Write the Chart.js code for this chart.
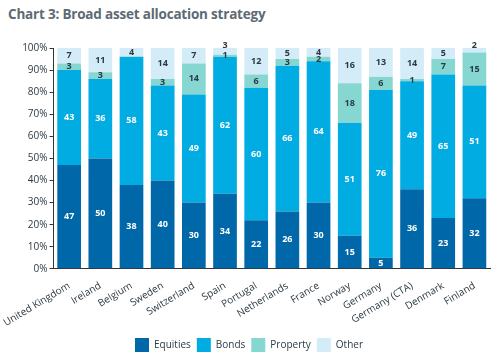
<!DOCTYPE html>
<html>
<head>
<meta charset="utf-8">
<script src="https://cdn.jsdelivr.net/npm/chart.js@4"></script>
<style>
  body { margin: 0; background: #fff; }
  #wrap { width: 494px; height: 353px; position: relative; }
  #title { position: absolute; left: 8px; top: 5px; font: bold 13.5px "Open Sans", sans-serif; color: #5d6a73; letter-spacing: -0.2px; }
  canvas { position: absolute; left: 0; top: 0; }
</style>
</head>
<body>
<div id="wrap">
  <div id="title">Chart 3: Broad asset allocation strategy</div>
  <canvas id="myChart" width="494" height="353"></canvas>
</div>
<script>
const countries = ['United Kingdom', 'Ireland', 'Belgium', 'Sweden', 'Switzerland', 'Spain', 'Portugal',
  'Netherlands', 'France', 'Norway', 'Germany', 'Germany (CTA)', 'Denmark', 'Finland'];
const equities = [47, 50, 38, 40, 30, 34, 22, 26, 30, 15, 5, 36, 23, 32];
const bonds    = [43, 36, 58, 43, 49, 62, 60, 66, 64, 51, 76, 49, 65, 51];
const property = [3, 3, 0, 3, 14, 1, 6, 3, 2, 18, 6, 1, 7, 15];
const other    = [7, 11, 4, 14, 7, 3, 12, 5, 4, 16, 13, 14, 5, 2];
const yTicks = [0, 10, 20, 30, 40, 50, 60, 70, 80, 90, 100];

const fontFam = '"Open Sans", sans-serif';

// draws the value in the middle of each segment
const segLabels = {
  id: 'segLabels',
  afterDatasetsDraw(chart) {
    const ctx = chart.ctx;
    ctx.save();
    ctx.font = 'bold 9px ' + fontFam;
    ctx.textAlign = 'center';
    ctx.textBaseline = 'middle';
    chart.data.datasets.forEach((ds, i) => {
      const meta = chart.getDatasetMeta(i);
      meta.data.forEach((bar, j) => {
        const v = ds.data[j];
        if (!v) return;
        const top = Math.min(bar.y, bar.base);
        const bot = Math.max(bar.y, bar.base);
        let y = (top + bot) / 2;
        if (i == 3 && bot - top < 8) y = top - 3;
        ctx.fillStyle = i < 2 ? '#ffffff' : '#2b3a44';
        ctx.fillText(v, bar.x, y);
      });
    });
    ctx.restore();
  }
};

new Chart(document.getElementById('myChart'), {
  type: 'bar',
  data: {
    labels: countries,
    datasets: [
      { label: 'Equities', data: equities, backgroundColor: '#0068a8' },
      { label: 'Bonds', data: bonds, backgroundColor: '#00ace2' },
      { label: 'Property', data: property, backgroundColor: '#86d6d2' },
      { label: 'Other', data: other, backgroundColor: '#d3ecf8' }
    ]
  },
  options: {
    responsive: false,
    animation: false,
    layout: { padding: { top: 48, left: 8, right: 4, bottom: -9 } },
    datasets: { bar: { barPercentage: 0.76, categoryPercentage: 1 } },
    scales: {
      x: {
        stacked: true,
        grid: { display: false },
        border: { display: true, color: '#333', width: 1 },
        ticks: { minRotation: 31, maxRotation: 31, padding: 3, color: '#2b3a44', font: { size: 10, family: fontFam } }
      },
      y: {
        stacked: true,
        min: 0,
        max: 100,
        afterBuildTicks: axis => { axis.ticks = yTicks.map(v => ({ value: v })); },
        grid: { drawOnChartArea: false, drawTicks: true, tickLength: 4, color: '#333' },
        border: { display: true, color: '#333', width: 1 },
        ticks: { callback: v => v + '%', padding: 2, color: '#2b3a44', font: { size: 10, family: fontFam } }
      }
    },
    plugins: {
      legend: {
        position: 'bottom',
        labels: { boxWidth: 14, boxHeight: 14, padding: 6, color: '#2b3a44', font: { size: 10, family: fontFam } }
      },
      tooltip: { enabled: false }
    }
  },
  plugins: [segLabels]
});
</script>
</body>
</html>
